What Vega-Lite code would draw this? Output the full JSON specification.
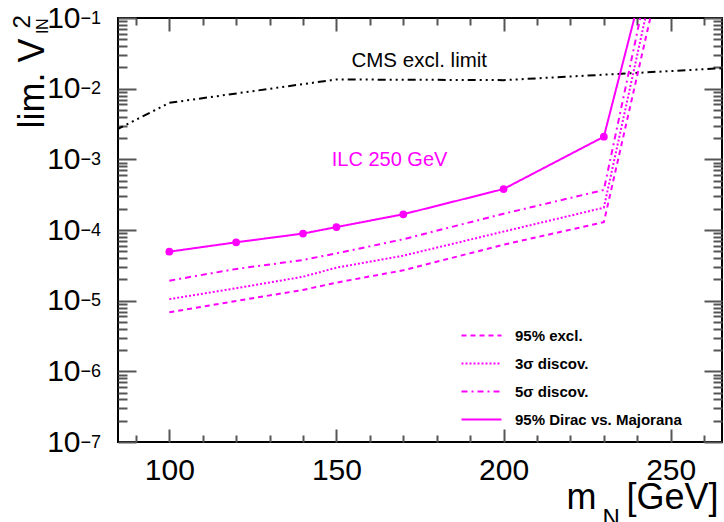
{
  "$schema": "https://vega.github.io/schema/vega-lite/v6.json",
  "width": 604,
  "height": 424,
  "autosize": {"type": "none"},
  "padding": {"left": 118, "top": 18, "right": 2, "bottom": 80},
  "background": "white",
  "config": {
    "view": {"stroke": "black", "strokeWidth": 2},
    "font": "Liberation Sans",
    "axis": {
      "grid": false,
      "domain": false,
      "labelColor": "black",
      "titleColor": "black",
      "labelFont": "Liberation Sans",
      "titleFont": "Liberation Sans",
      "titleFontWeight": "normal",
      "labelOverlap": false,
      "labelFlush": false,
      "labelBound": false
    }
  },
  "datasets": {
    "cms": [
      {"m": 84, "v": 0.0026},
      {"m": 100, "v": 0.0063},
      {"m": 150, "v": 0.0135},
      {"m": 200, "v": 0.0132},
      {"m": 270, "v": 0.02}
    ],
    "ilc": [
      {"series": "95% excl.", "m": 100, "v": 6.85e-6},
      {"series": "95% excl.", "m": 120, "v": 9.9e-6},
      {"series": "95% excl.", "m": 140, "v": 1.42e-5},
      {"series": "95% excl.", "m": 150, "v": 1.8e-5},
      {"series": "95% excl.", "m": 170, "v": 2.69e-5},
      {"series": "95% excl.", "m": 200, "v": 6.2e-5},
      {"series": "95% excl.", "m": 230, "v": 1.29e-4},
      {"series": "95% excl.", "m": 250, "v": 1.86},
      {"series": "3σ discov.", "m": 100, "v": 1.05e-5},
      {"series": "3σ discov.", "m": 120, "v": 1.5e-5},
      {"series": "3σ discov.", "m": 140, "v": 2.18e-5},
      {"series": "3σ discov.", "m": 150, "v": 2.93e-5},
      {"series": "3σ discov.", "m": 170, "v": 4.33e-5},
      {"series": "3σ discov.", "m": 200, "v": 9.5e-5},
      {"series": "3σ discov.", "m": 230, "v": 2.07e-4},
      {"series": "3σ discov.", "m": 250, "v": 4.4},
      {"series": "5σ discov.", "m": 100, "v": 1.92e-5},
      {"series": "5σ discov.", "m": 120, "v": 2.81e-5},
      {"series": "5σ discov.", "m": 140, "v": 3.76e-5},
      {"series": "5σ discov.", "m": 150, "v": 4.68e-5},
      {"series": "5σ discov.", "m": 170, "v": 7.39e-5},
      {"series": "5σ discov.", "m": 200, "v": 1.7e-4},
      {"series": "5σ discov.", "m": 230, "v": 3.68e-4},
      {"series": "5σ discov.", "m": 250, "v": 10.8},
      {"series": "95% Dirac vs. Majorana", "m": 100, "v": 4.93e-5},
      {"series": "95% Dirac vs. Majorana", "m": 120, "v": 6.7e-5},
      {"series": "95% Dirac vs. Majorana", "m": 140, "v": 8.9e-5},
      {"series": "95% Dirac vs. Majorana", "m": 150, "v": 1.1e-4},
      {"series": "95% Dirac vs. Majorana", "m": 170, "v": 1.67e-4},
      {"series": "95% Dirac vs. Majorana", "m": 200, "v": 3.8e-4},
      {"series": "95% Dirac vs. Majorana", "m": 230, "v": 2.09e-3},
      {"series": "95% Dirac vs. Majorana", "m": 250, "v": 10}
    ],
    "note_cms": [{"label": "CMS excl. limit", "m": 154.5, "v": 0.0205}],
    "note_ilc": [{"label": "ILC 250 GeV", "m": 148.6, "v": 8.05e-4}]
  },
  "layer": [
    {
      "data": {"name": "cms"},
      "mark": {"type": "line", "color": "black", "strokeWidth": 2, "strokeDash": [8, 4, 2, 4, 2, 4, 2, 4], "clip": true},
      "encoding": {
        "x": {
          "field": "m", "type": "quantitative",
          "scale": {"domain": [84.65, 265.35], "nice": false, "zero": false},
          "axis": {
            "orient": "bottom", "values": [100, 150, 200, 250], "offset": -13,
            "ticks": true, "tickSize": 13, "tickColor": "#555555", "tickWidth": 2,
            "labelFontSize": 30, "labelPadding": 13, "format": "d",
            "title": "m\u00a0\u00a0\u00a0[GeV]", "titleFontSize": 36, "titleAnchor": "end", "titleAlign": "right",
            "titleBaseline": "alphabetic", "titleX": 600, "titleY": 79
          }
        },
        "y": {
          "field": "v", "type": "quantitative",
          "scale": {"type": "log", "domain": [1e-7, 0.1], "nice": false},
          "axis": {
            "orient": "left", "values": [1e-7, 1e-6, 1e-5, 1e-4, 1e-3, 1e-2, 1e-1], "offset": -18,
            "ticks": true, "tickSize": 18, "tickColor": "#555555", "tickWidth": 2,
            "labelExpr": "'10'", "labelFontSize": 30, "labelPadding": 38, "labelDy": 5,
            "title": "lim. V", "titleFontSize": 36, "titleAngle": -90, "titleAlign": "left",
            "titleBaseline": "alphabetic", "titleX": -93, "titleY": 110
          }
        }
      }
    },
    {
      "data": {"name": "ilc"},
      "mark": {"type": "line", "color": "#ff00ff", "strokeWidth": 2, "clip": true},
      "encoding": {
        "x": {
          "field": "m", "type": "quantitative",
          "scale": {"domain": [84.65, 265.35], "nice": false, "zero": false},
          "axis": {
            "orient": "bottom", "values": [90, 110, 120, 130, 140, 160, 170, 180, 190, 210, 220, 230, 240, 260],
            "offset": -7, "ticks": true, "tickSize": 7, "tickColor": "#555555", "tickWidth": 2, "labels": false,
            "title": "N", "titleFontSize": 24, "titleAlign": "left", "titleBaseline": "alphabetic",
            "titleX": 484, "titleY": 90
          }
        },
        "y": {
          "field": "v", "type": "quantitative",
          "scale": {"type": "log", "domain": [1e-7, 0.1], "nice": false},
          "axis": {
            "orient": "left",
            "values": [2e-7, 3e-7, 4e-7, 5e-7, 6e-7, 7e-7, 8e-7, 9e-7, 2e-6, 3e-6, 4e-6, 5e-6, 6e-6, 7e-6, 8e-6, 9e-6, 2e-5, 3e-5, 4e-5, 5e-5, 6e-5, 7e-5, 8e-5, 9e-5, 2e-4, 3e-4, 4e-4, 5e-4, 6e-4, 7e-4, 8e-4, 9e-4, 2e-3, 3e-3, 4e-3, 5e-3, 6e-3, 7e-3, 8e-3, 9e-3, 2e-2, 3e-2, 4e-2, 5e-2, 6e-2, 7e-2, 8e-2, 9e-2],
            "offset": -9, "ticks": true, "tickSize": 9, "tickColor": "#555555", "tickWidth": 2, "labels": false,
            "title": "lN", "titleFontSize": 16, "titleAngle": -90, "titleAlign": "left",
            "titleBaseline": "alphabetic", "titleX": -80, "titleY": 15
          }
        },
        "strokeDash": {
          "field": "series", "type": "nominal",
          "scale": {
            "domain": ["95% excl.", "3σ discov.", "5σ discov.", "95% Dirac vs. Majorana"],
            "range": [[5, 4], [2, 2], [6, 4, 2, 4], [1, 0]]
          },
          "legend": {
            "orient": "none", "legendX": 356, "legendY": 310, "title": null, "padding": 0,
            "symbolType": "M-4,0H4", "symbolSize": 100, "symbolStrokeWidth": 2, "symbolStrokeColor": "#ff00ff",
            "labelFont": "Liberation Sans", "labelFontSize": 15, "labelFontWeight": "bold", "labelColor": "black",
            "labelOffset": 26, "rowPadding": 12, "labelLimit": 0
          }
        }
      }
    },
    {
      "data": {"name": "ilc"},
      "transform": [{"filter": "datum.series == '95% Dirac vs. Majorana' && datum.v < 0.1"}],
      "mark": {"type": "circle", "color": "#ff00ff", "size": 60, "opacity": 1},
      "encoding": {
        "x": {
          "field": "m", "type": "quantitative",
          "scale": {"domain": [84.65, 265.35], "nice": false, "zero": false},
          "axis": {"orient": "top", "values": [100, 150, 200, 250], "offset": -13, "ticks": true, "tickSize": 13, "tickColor": "#555555", "tickWidth": 2, "labels": false, "title": null}
        },
        "y": {
          "field": "v", "type": "quantitative",
          "scale": {"type": "log", "domain": [1e-7, 0.1], "nice": false},
          "axis": {"orient": "right", "values": [1e-7, 1e-6, 1e-5, 1e-4, 1e-3, 1e-2, 1e-1], "offset": -18, "ticks": true, "tickSize": 18, "tickColor": "#555555", "tickWidth": 2, "labels": false, "title": null}
        }
      }
    },
    {
      "data": {"name": "note_cms"},
      "mark": {"type": "text", "color": "black", "fontSize": 20.5, "font": "Liberation Sans", "align": "left", "baseline": "alphabetic"},
      "encoding": {
        "x": {
          "field": "m", "type": "quantitative",
          "scale": {"domain": [84.65, 265.35], "nice": false, "zero": false},
          "axis": {"orient": "top", "values": [90, 110, 120, 130, 140, 160, 170, 180, 190, 210, 220, 230, 240, 260], "offset": -7, "ticks": true, "tickSize": 7, "tickColor": "#555555", "tickWidth": 2, "labels": false, "title": null}
        },
        "y": {
          "field": "v", "type": "quantitative",
          "scale": {"type": "log", "domain": [1e-7, 0.1], "nice": false},
          "axis": {
            "orient": "right",
            "values": [2e-7, 3e-7, 4e-7, 5e-7, 6e-7, 7e-7, 8e-7, 9e-7, 2e-6, 3e-6, 4e-6, 5e-6, 6e-6, 7e-6, 8e-6, 9e-6, 2e-5, 3e-5, 4e-5, 5e-5, 6e-5, 7e-5, 8e-5, 9e-5, 2e-4, 3e-4, 4e-4, 5e-4, 6e-4, 7e-4, 8e-4, 9e-4, 2e-3, 3e-3, 4e-3, 5e-3, 6e-3, 7e-3, 8e-3, 9e-3, 2e-2, 3e-2, 4e-2, 5e-2, 6e-2, 7e-2, 8e-2, 9e-2],
            "offset": -9, "ticks": true, "tickSize": 9, "tickColor": "#555555", "tickWidth": 2, "labels": false, "title": null
          }
        },
        "text": {"field": "label"}
      }
    },
    {
      "data": {"name": "note_ilc"},
      "mark": {"type": "text", "color": "#ff00ff", "fontSize": 20, "font": "Liberation Sans", "align": "left", "baseline": "alphabetic"},
      "encoding": {
        "x": {
          "field": "m", "type": "quantitative",
          "scale": {"domain": [84.65, 265.35], "nice": false, "zero": false},
          "axis": null
        },
        "y": {
          "field": "v", "type": "quantitative",
          "scale": {"type": "log", "domain": [1e-7, 0.1], "nice": false},
          "axis": {
            "orient": "left", "values": [1e-7, 1e-6, 1e-5, 1e-4, 1e-3, 1e-2, 1e-1],
            "ticks": false, "tickSize": 0,
            "labelExpr": "'−' + format(-round(log(datum.value)/LN10), 'd')",
            "labelFontSize": 18, "labelAlign": "left", "labelPadding": 38, "labelDy": -3,
            "title": "2", "titleFontSize": 24, "titleAngle": -90, "titleAlign": "left",
            "titleBaseline": "alphabetic", "titleX": -89, "titleY": 10
          }
        },
        "text": {"field": "label"}
      }
    }
  ],
  "resolve": {"axis": {"x": "independent", "y": "independent"}}
}
